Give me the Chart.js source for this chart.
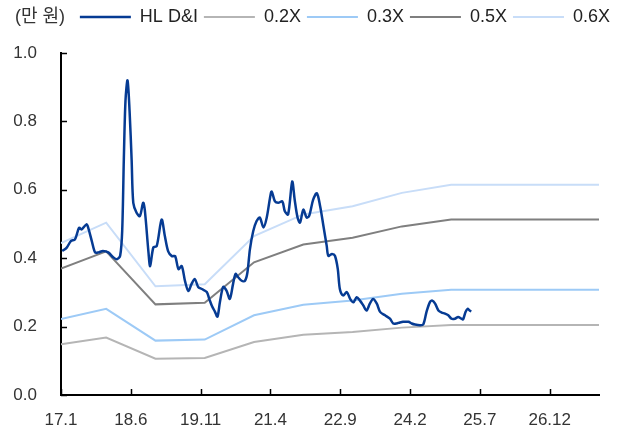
<!DOCTYPE html>
<html>
<head>
<meta charset="utf-8">
<script src="https://cdn.jsdelivr.net/npm/chart.js@4/dist/chart.umd.min.js"></script>
<style>
  html, body { margin: 0; padding: 0; background: #fff; }
  #wrap { width: 627px; height: 434px; position: relative; }
</style>
</head>
<body>
<div id="wrap"><canvas id="pbrChart"></canvas></div>
<script>
// x axis: months counted from 2017.1 (0 = 17.1)
const xTickMonths = [0, 17, 34, 51, 68, 85, 102, 119];
const xTickLabels = ['17.1', '18.6', '19.11', '21.4', '22.9', '24.2', '25.7', '26.12'];
const xMax = 131;

// HL D&I price (10,000 won)
const priceMonths = [0.3, 1.4, 2.4, 3.4, 4.4, 5.0, 6.2, 6.6, 7.5, 8.3, 9.1, 10.2, 11.5, 12.7, 13.6, 14.4,
  14.9, 15.3, 15.7, 16.2, 16.7, 17.2, 17.6, 18.4, 19.2, 20.0, 20.4, 21.3, 21.7, 22.5, 23.3, 24.5, 25.3,
  26.1, 27.0, 27.8, 28.6, 29.4, 30.2, 31.0, 31.8, 32.6, 33.4, 34.3, 35.5, 36.1, 36.7, 37.5, 38.1, 38.7,
  39.5, 40.3, 41.1, 41.9, 42.5, 43.1, 44.0, 44.8, 45.4, 46.0, 46.8, 47.6, 48.4, 49.3, 50.1, 50.9, 51.3,
  52.1, 52.9, 53.9, 54.5, 55.3, 56.3, 56.9, 57.6, 58.2, 59.0, 59.8, 60.4, 61.4, 62.3, 63.1, 63.9, 64.7,
  65.1, 66.0, 66.7, 67.4, 67.9, 68.7, 69.6, 70.4, 71.2, 72.0, 72.8, 73.6, 74.4, 75.2, 76.0, 76.9, 77.7,
  78.9, 80.1, 80.9, 81.7, 82.5, 83.3, 84.6, 85.4, 86.2, 87.4, 88.2, 89.0, 89.8, 90.4, 91.1, 91.9, 92.7,
  93.5, 94.3, 95.1, 95.9, 96.7, 97.5, 97.9, 98.5, 99.0, 99.5, 99.9];
const priceValues = [0.421, 0.431, 0.45, 0.455, 0.489, 0.484, 0.499, 0.49, 0.45, 0.417, 0.417, 0.421, 0.417, 0.403, 0.397, 0.407,
  0.48, 0.69, 0.86, 0.92, 0.83, 0.687, 0.562, 0.533, 0.523, 0.562, 0.542, 0.417, 0.377, 0.432, 0.435, 0.513, 0.464,
  0.42, 0.406, 0.406, 0.368, 0.377, 0.333, 0.304, 0.325, 0.339, 0.316, 0.31, 0.301, 0.281, 0.262, 0.243, 0.229, 0.272,
  0.316, 0.305, 0.281, 0.325, 0.354, 0.345, 0.334, 0.334, 0.359, 0.426, 0.479, 0.508, 0.519, 0.49, 0.519, 0.577, 0.595,
  0.566, 0.562, 0.566, 0.537, 0.528, 0.624, 0.571, 0.519, 0.504, 0.542, 0.519, 0.523, 0.571, 0.59, 0.552, 0.494, 0.436,
  0.407, 0.412, 0.407, 0.368, 0.31, 0.291, 0.301, 0.281, 0.271, 0.286, 0.276, 0.262, 0.247, 0.267, 0.281, 0.267, 0.243,
  0.233, 0.223, 0.209, 0.209, 0.212, 0.214, 0.214, 0.209, 0.206, 0.204, 0.206, 0.243, 0.271, 0.276, 0.267, 0.247, 0.241,
  0.238, 0.233, 0.223, 0.223, 0.228, 0.223, 0.221, 0.243, 0.252, 0.247, 0.244];

// PBR band lines (year-end anchor points, flat after the last one)
const bandMonths = [0, 11, 23, 35, 47, 59, 71, 83, 95, 131];
const band02 = [0.148, 0.168, 0.106, 0.108, 0.155, 0.176, 0.184, 0.197, 0.205, 0.205];
const band03 = [0.222, 0.252, 0.159, 0.162, 0.233, 0.264, 0.276, 0.296, 0.308, 0.308];
const band05 = [0.370, 0.420, 0.265, 0.270, 0.388, 0.440, 0.460, 0.493, 0.513, 0.513];
const band06 = [0.444, 0.504, 0.318, 0.324, 0.465, 0.528, 0.552, 0.591, 0.615, 0.615];

const yTicks = [0, 0.2, 0.4, 0.6, 0.8, 1.0];
const unitLabel = '(만 원)';

function toPoints(xs, ys) {
    return xs.map((x, i) => ({ x: x, y: ys[i] }));
}

function bandSet(label, xs, ys, color) {
    return {
        label: label,
        data: toPoints(xs, ys),
        borderColor: color,
        backgroundColor: color,
        borderWidth: 2,
        pointRadius: 0,
        tension: 0
    };
}

const LEGEND_GAP = 17;
const LEGEND_SHIFT = 17;

// inward tick marks, unit label, legend placement
const framePlugin = {
    id: 'frame',
    beforeInit(chart) {
        const legend = chart.legend;
        if (legend) {
            const fit = legend.fit;
            legend.fit = function () {
                fit.call(this);
                this.height += LEGEND_GAP;
            };
        }
    },
    afterLayout(chart) {
        if (chart.legend) {
            chart.legend.left += LEGEND_SHIFT;
            chart.legend.right += LEGEND_SHIFT;
        }
    },
    afterDraw(chart) {
        const ctx = chart.ctx;
        const xs = chart.scales.x;
        const ys = chart.scales.y;
        const area = chart.chartArea;
        ctx.save();
        ctx.strokeStyle = '#000';
        ctx.lineWidth = 1.5;
        ctx.beginPath();
        yTicks.forEach(v => {
            const py = Math.round(ys.getPixelForValue(v)) + 0.5;
            ctx.moveTo(area.left, py);
            ctx.lineTo(area.left + 6, py);
        });
        xTickMonths.forEach(m => {
            const px = Math.round(xs.getPixelForValue(m)) + 0.5;
            ctx.moveTo(px, area.bottom);
            ctx.lineTo(px, area.bottom - 6);
        });
        ctx.stroke();
        ctx.fillStyle = '#333';
        ctx.font = '18px "Liberation Sans", "Noto Sans CJK KR", sans-serif';
        ctx.textBaseline = 'middle';
        ctx.textAlign = 'left';
        ctx.fillText(unitLabel, 15, 17);
        ctx.restore();
    }
};

const ctx = document.getElementById('pbrChart');

new Chart(ctx, {
    type: 'line',
    data: {
        datasets: [
            {
                label: 'HL D&I',
                data: toPoints(priceMonths, priceValues),
                borderColor: '#063b93',
                backgroundColor: '#063b93',
                borderWidth: 2.5,
                pointRadius: 0,
                tension: 0.3
            },
            bandSet('0.2X', bandMonths, band02, '#b5b5b5'),
            bandSet('0.3X', bandMonths, band03, '#9dcaf6'),
            bandSet('0.5X', bandMonths, band05, '#7f7f7f'),
            bandSet('0.6X', bandMonths, band06, '#c8ddf8')
        ]
    },
    options: {
        responsive: true,
        maintainAspectRatio: false,
        animation: false,
        layout: {
            padding: { top: 2, right: 28, bottom: 0, left: 0 }
        },
        scales: {
            x: {
                type: 'linear',
                min: 0,
                max: xMax,
                grid: { display: false },
                border: { display: true, color: '#000', width: 2 },
                afterBuildTicks: function (scale) {
                    scale.ticks = xTickMonths.map(v => ({ value: v }));
                },
                afterFit: function (scale) {
                    scale.height = 39;
                },
                ticks: {
                    color: '#333',
                    padding: 7,
                    maxRotation: 0,
                    autoSkip: false,
                    font: { family: 'Liberation Sans', size: 17 },
                    callback: function (value) {
                        const i = xTickMonths.indexOf(value);
                        return i >= 0 ? xTickLabels[i] : '';
                    }
                }
            },
            y: {
                min: 0,
                max: 1,
                grid: { display: false },
                border: { display: true, color: '#000', width: 2 },
                afterBuildTicks: function (scale) {
                    scale.ticks = yTicks.map(v => ({ value: v }));
                },
                afterFit: function (scale) {
                    scale.width = 61;
                },
                ticks: {
                    color: '#333',
                    padding: 16,
                    font: { family: 'Liberation Sans', size: 17 },
                    callback: function (value) {
                        return value.toFixed(1);
                    }
                }
            }
        },
        plugins: {
            legend: {
                position: 'top',
                align: 'end',
                labels: {
                    color: '#222',
                    boxWidth: 51,
                    boxHeight: 0,
                    padding: 6,
                    font: { family: 'Liberation Sans', size: 18 }
                }
            },
            tooltip: { enabled: false }
        }
    },
    plugins: [framePlugin]
});
</script>
</body>
</html>
